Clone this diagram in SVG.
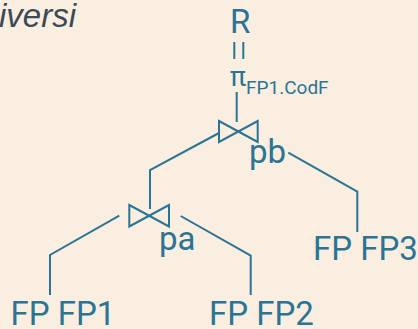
<svg xmlns="http://www.w3.org/2000/svg" width="418" height="329" viewBox="0 0 418 329">
  <style>
    .lbl { font-family: Roboto, "Liberation Sans", sans-serif; fill: #2a7496; }
    .ln { fill: none; stroke: #2a7496; stroke-width: 2; }
    .title { font-family: "Liberation Sans", Arial, sans-serif; font-style: italic; fill: #3b4a56; }
  </style>
  <rect width="418" height="329" fill="#f9eedf"/>
  <text class="title" x="-1" y="27" font-size="33">iversi</text>

  <g id="connectors">
    <line class="ln" x1="234.3" y1="42" x2="234.3" y2="59"/>
    <line class="ln" x1="243.3" y1="42" x2="243.3" y2="59"/>
    <line class="ln" x1="236.7" y1="92" x2="236.7" y2="122"/>
    <polyline class="ln" points="219,133 150,170 150,209"/>
    <polyline class="ln" points="119.3,215.7 50,255 50,295"/>
    <polyline class="ln" points="180.7,216 250.7,255.7 250.7,295"/>
    <polyline class="ln" points="288.3,152.7 357.3,191.7 357.3,232"/>
  </g>

  <g id="R">
    <text class="lbl" x="230" y="33" font-size="33">R</text>
  </g>
  <g id="projection">
    <text class="lbl" x="230" y="86" font-size="27">π</text>
    <text class="lbl" x="246" y="94" font-size="19">FP1.CodF</text>
  </g>
  <g id="join-pb">
    <polygon class="ln" points="219,121 257.7,142 257.7,121 219,142"/>
    <text class="lbl" x="249" y="163" font-size="33">pb</text>
  </g>
  <g id="join-pa">
    <polygon class="ln" points="129.3,205 169,226.5 169,205 129.3,226.5"/>
    <text class="lbl" x="159" y="250" font-size="33">pa</text>
  </g>
  <g id="FP1">
    <text class="lbl" x="10.5" y="325" font-size="33">FP FP1</text>
  </g>
  <g id="FP2">
    <text class="lbl" x="209" y="325" font-size="33">FP FP2</text>
  </g>
  <g id="FP3">
    <text class="lbl" x="313" y="260" font-size="33">FP FP3</text>
  </g>
</svg>
